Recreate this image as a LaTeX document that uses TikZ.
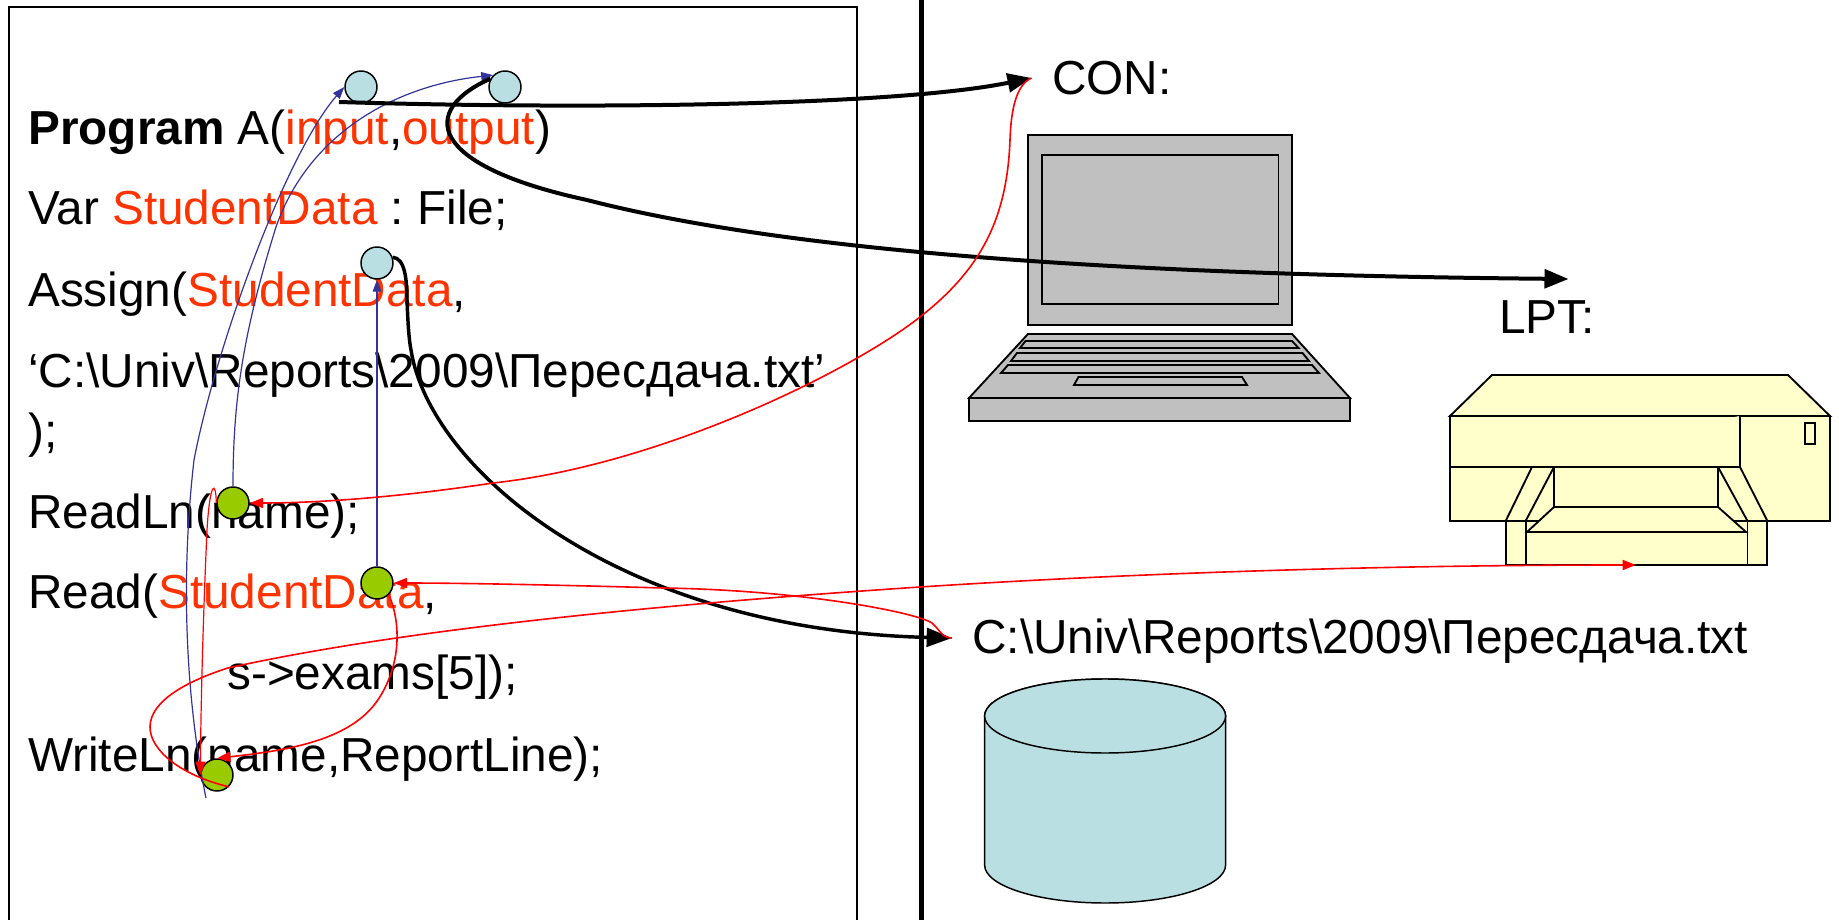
\documentclass[tikz,border=0pt]{standalone}
\usepackage{fontspec}
\setmainfont{Liberation Sans}
\usetikzlibrary{arrows.meta}
\definecolor{txtred}{HTML}{FF3300}
\definecolor{cblue}{HTML}{B9DFE2}
\definecolor{cgreen}{HTML}{99CC00}
\definecolor{agblue}{HTML}{333399}
\definecolor{lapgray}{HTML}{C0C0C0}
\definecolor{prn}{HTML}{FFFFCC}
\newcommand{\rd}[1]{\textcolor{txtred}{#1}}
\frenchspacing
\tikzset{
  x=0.75pt,y=-0.75pt,
  txt/.style={anchor=base west,inner sep=0pt,font=\fontsize{35.8pt}{43pt}\selectfont},
  dot/.style={circle,draw=black,line width=1.1pt,minimum size=24pt,inner sep=0pt},
  bdot/.style={dot,fill=cblue},
  gdot/.style={dot,fill=cgreen},
  blk/.style={line width=3pt,black,-{Triangle[length=18pt,width=14pt]}},
  blkb/.style={line width=2.6pt,black,-{Triangle[length=19pt,width=14pt]}},
  rdl/.style={line width=1.2pt,red,-{Triangle[length=10pt,width=7.5pt]}},
  blu/.style={line width=0.9pt,agblue,-{Triangle[length=9pt,width=6.5pt]}},
  lap/.style={draw=black,line width=1.4pt,fill=lapgray},
  pr/.style={draw=black,line width=1.4pt,fill=prn},
}
\begin{document}
\begin{tikzpicture}
\useasboundingbox (0,0) rectangle (1839,920);
\fill[white] (0,0) rectangle (1839,920);
% frame
\draw[line width=1.2pt] (9,925) -- (9,7) -- (857,7) -- (857,925);
\draw[line width=3.6pt] (921.5,-5) -- (921.5,925);
% left text
\node[txt] (t1) at (28,144.5) {\textbf{Program} A(\rd{input},\rd{output})};
\node[txt] (t2) at (28,224.5) {Var \rd{StudentData} : File;};
\node[txt] (t3) at (28,306.5) {Assign(\rd{StudentData},};
\node[txt] (t4) at (28,387.5) {‘C:\textbackslash Univ\textbackslash Reports\textbackslash 2009\textbackslash Пересдача.txt’};
\node[txt] (t5) at (28,447.5) {);};
\node[txt] (t6) at (28,528.5) {ReadLn(name);};
\node[txt] (t7) at (28,608.5) {Read(\rd{StudentData},};
\node[txt] (t8) at (227,689.5) {s->exams[5]);};
\node[txt] (t9) at (28,771.5) {WriteLn(name,ReportLine);};
% right text
\node[txt] (con) at (1052,94.5) {CON:};
\node[txt] (lpt) at (1499,333.5) {LPT:};
\node[txt] (file) at (972,653.5) {C:\textbackslash Univ\textbackslash Reports\textbackslash 2009\textbackslash Пересдача.txt};
% laptop
\draw[lap] (1028,135) rectangle (1292,325);
\draw[lap] (1042,155) rectangle (1278.5,304);
\draw[lap] (1028,334) -- (1292,334) -- (1350,398) -- (969,398) -- cycle;
\draw[lap] (969,398) rectangle (1350,421);
\draw[lap] (1025.5,341) -- (1292,341) -- (1298.5,348) -- (1020,348) -- cycle;
\draw[lap] (1017,353) -- (1302.5,353) -- (1309,361) -- (1011,361) -- cycle;
\draw[lap] (1008,365) -- (1312,365) -- (1319,373) -- (1001,373) -- cycle;
\draw[lap] (1078.5,377) -- (1242,377) -- (1247,385) -- (1074,385) -- cycle;
% printer
\draw[pr] (1505.7,521) rectangle (1767.4,565);
\draw[pr] (1492,375) -- (1788,375) -- (1830,416) -- (1450,416) -- cycle;
\draw[pr] (1450,416) rectangle (1830,521);
\draw[pr] (1740,416) -- (1740,467) -- (1450,467);
\draw[pr] (1805,423) rectangle (1815,444);
\draw[pr] (1532,467) -- (1505.7,521) -- (1525.6,521) -- (1554,467) -- cycle;
\draw[pr] (1740,467) -- (1767.4,521) -- (1747.5,521) -- (1718,467) -- cycle;
\draw[pr] (1554,467) rectangle (1718,507);
\draw[pr] (1554,507) -- (1718,507) -- (1746,532) -- (1527,532) -- cycle;
\draw[pr] (1525.6,521) -- (1525.6,565);
\draw[pr] (1747.5,521) -- (1747.5,565);
% cylinder
\draw[draw=black,line width=1.1pt,fill=cblue] (984.6,716) -- (984.6,865) arc[start angle=180,end angle=360,x radius=120.5,y radius=-38] -- (1225.6,716) arc[start angle=0,end angle=180,x radius=120.5,y radius=-37] -- cycle;
\draw[draw=black,line width=1.1pt,fill=cblue] (1105.1,716) ellipse[x radius=120.5,y radius=37];
% dots
\node[bdot] (e1) at (361,87) {};
\node[bdot] (e2) at (505,87) {};
\node[bdot] (e3) at (377,263) {};
\node[gdot] (g1) at (233,503) {};
\node[gdot] (g2) at (377,583) {};
\node[gdot] (g3) at (217,775) {};
\coordinate (conp) at (1031.5,78);
\coordinate (lptp) at (1568.5,279);
\coordinate (filep) at (952,638);
\coordinate (prnp) at (1636,565);
\coordinate (b1s) at (206,798);
\coordinate (k1) at (339,102);
% blue
\draw[blu] (b1s) .. controls (190,720) and (178,600) .. (194,460) .. controls (215,350) and (285,155) .. (e1.west);
\draw[blu] (g1.north) .. controls (233,400) and (243,333) .. (276,227) .. controls (310,130) and (400,85) .. (e2.135);
\draw[blu] (g2.north) -- (e3.south);
% black
\draw[blk] (k1) .. controls (600,110) and (900,105) .. (conp);
\draw[blk] (e2.150) .. controls (420,110) and (425,165) .. (587,200) .. controls (800,255) and (1150,275) .. (lptp);
\draw[blkb] (e3.20) .. controls (405,258) and (407,280) .. (407,300) .. controls (408,325) and (409,340) .. (411,350) .. controls (430,470) and (620,630) .. (filep);
% red
\draw[rdl] (conp) .. controls (1016,85) and (1011,110) .. (1010,140) .. controls (1007,220) and (980,270) .. (920,317) .. controls (850,372) and (660,465) .. (493,483) .. controls (400,497) and (320,503) .. (g1.east);
\draw[rdl] (filep) .. controls (942,638) and (940,630) .. (932,623) .. controls (915,612) and (800,590) .. (663,588) .. controls (560,585) and (460,583) .. (g2.east);
\draw[rdl] (g2.south east) .. controls (400,620) and (402,660) .. (381,695) .. controls (355,740) and (290,750) .. (g3.north);
\draw[rdl] (g3.south east) .. controls (180,775) and (150,750) .. (150,727) .. controls (150,700) and (190,680) .. (228,668) .. controls (400,630) and (650,605) .. (920,587) .. controls (1150,572) and (1400,565) .. (prnp);
\draw[rdl,line width=0.9pt] (g1.west) .. controls (216,480) and (210,480) .. (207,530) .. controls (203,620) and (201,700) .. (g3.west);
\end{tikzpicture}
\end{document}
